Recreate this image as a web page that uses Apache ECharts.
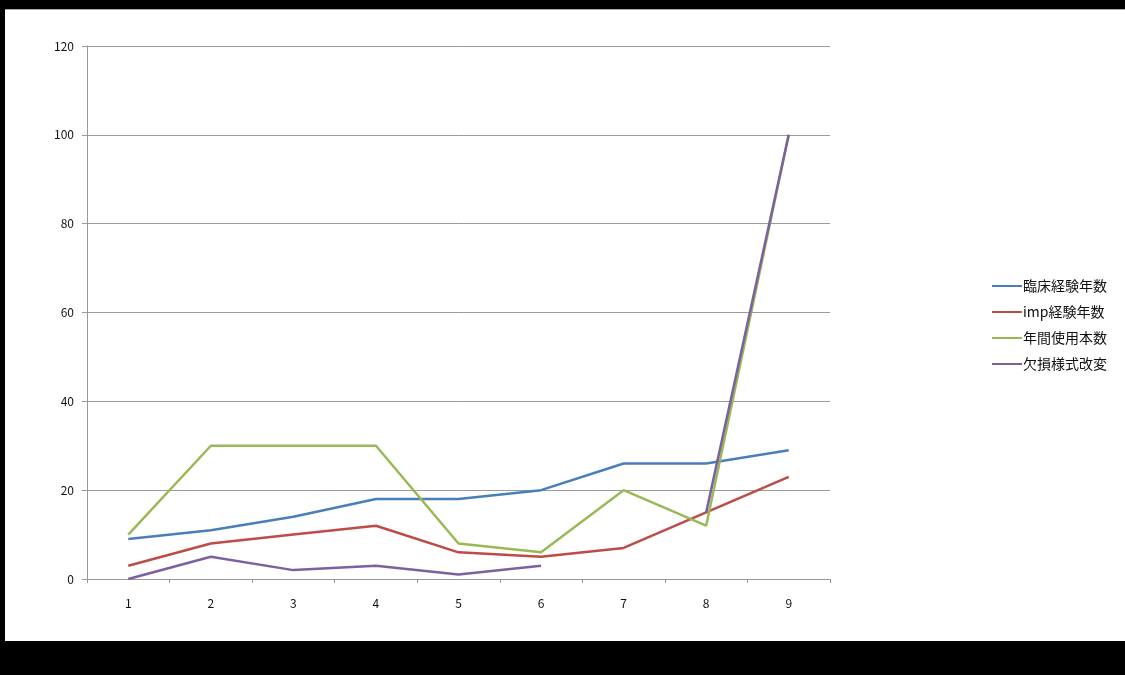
<!DOCTYPE html>
<html>
<head>
<meta charset="utf-8">
<script src="https://cdn.jsdelivr.net/npm/echarts@6/dist/echarts.min.js"></script>
<style>
  html, body { margin: 0; padding: 0; background: #000; }
  #frame { position: absolute; left: 5px; top: 9px; width: 1120px; height: 632px; background: #fff; border-top: 1px solid #aaa; box-sizing: border-box; }
  #chart { width: 100%; height: 100%; }
</style>
</head>
<body>
<div id="frame"><div id="chart"></div></div>
<script>
// x categories
const categories = ['1', '2', '3', '4', '5', '6', '7', '8', '9'];

// series names
const seriesNames = ['臨床経験年数', 'imp経験年数', '年間使用本数', '欠損様式改変'];

// series values
const clinicalYears = [9, 11, 14, 18, 18, 20, 26, 26, 29];
const impYears = [3, 8, 10, 12, 6, 5, 7, 15, 23];
const annualUse = [10, 30, 30, 30, 8, 6, 20, 12, 100];
const defectChange = [0, 5, 2, 3, 1, 3, null, 15, 100];

const colors = ['#4A7EBB', '#BE4B48', '#98B954', '#7D60A0'];
const seriesData = [clinicalYears, impYears, annualUse, defectChange];

const chart = echarts.init(document.getElementById('chart'), null, { renderer: 'canvas' });

const fontFamily = '"Noto Sans CJK JP", "Open Sans", sans-serif';

chart.setOption({
  animation: false,
  backgroundColor: '#fff',
  grid: { left: 82, top: 36, width: 743, height: 533, containLabel: false },
  legend: {
    orient: 'vertical',
    left: 982,
    top: 264,
    itemWidth: 30,
    itemHeight: 14,
    itemGap: 12,
    icon: 'path://M0,6 L30,6 L30,8 L0,8 Z',
    textStyle: { fontSize: 14, color: '#111', fontFamily: fontFamily, padding: [0, 0, 0, -4] },
    data: seriesNames
  },
  xAxis: {
    type: 'category',
    data: categories,
    boundaryGap: true,
    axisLine: { lineStyle: { color: '#999', width: 1 } },
    axisTick: { show: true, inside: false, length: 4, lineStyle: { color: '#999' } },
    axisLabel: { fontSize: 12, color: '#111', margin: 18, fontFamily: fontFamily },
    splitLine: { show: false }
  },
  yAxis: {
    type: 'value',
    min: 0,
    max: 120,
    interval: 20,
    axisLine: { show: true, lineStyle: { color: '#999', width: 1 } },
    axisTick: { show: true, inside: false, length: 5, lineStyle: { color: '#999' } },
    axisLabel: { fontSize: 12, color: '#111', margin: 13, fontFamily: fontFamily },
    splitLine: { show: true, lineStyle: { color: '#999', width: 1 } }
  },
  series: seriesNames.map((name, i) => ({
    name: name,
    type: 'line',
    data: seriesData[i],
    symbol: 'none',
    connectNulls: false,
    lineStyle: { color: colors[i], width: 2.5 },
    itemStyle: { color: colors[i] },
    z: 2 + i
  }))
});
</script>
</body>
</html>
